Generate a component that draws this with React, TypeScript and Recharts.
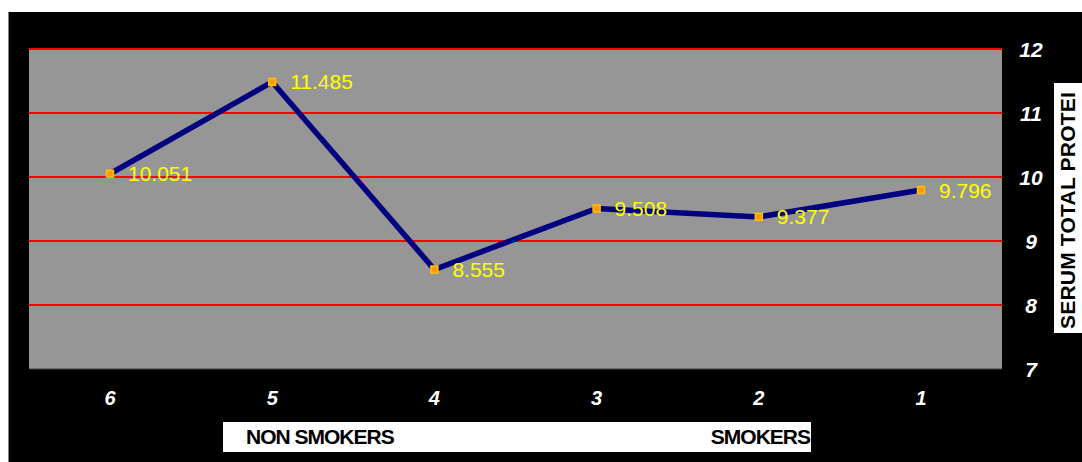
import React from "react";
import { LineChart, Line, XAxis, YAxis, CartesianGrid, LabelList } from "recharts";

const groups = ["6", "5", "4", "3", "2", "1"];
const serumProtein = [10.051, 11.485, 8.555, 9.508, 9.377, 9.796];
const yTicks = [7, 8, 9, 10, 11, 12];
const gridValues = [8, 9, 10, 11, 12];

const data = groups.map((g, i) => ({ group: g, value: serumProtein[i] }));

const FONT = "'Liberation Sans', Arial, sans-serif";

const XTick = (props: any) => {
  const { x, y, payload } = props;
  return (
    <text x={x} y={y + 29} textAnchor="middle" dominantBaseline="central" fill="#fff" fontSize={20} fontWeight="bold" fontStyle="italic" fontFamily={FONT}>
      {payload.value}
    </text>
  );
};

const YTick = (props: any) => {
  const { x, y, payload } = props;
  return (
    <text x={x + 29} y={y} textAnchor="middle" dominantBaseline="central" fill="#fff" fontSize={21} fontWeight="bold" fontStyle="italic" fontFamily={FONT}>
      {payload.value}
    </text>
  );
};

const Marker = (props: any) => {
  const { cx, cy } = props;
  if (cx == null || cy == null) return null;
  return <rect x={cx - 3.5} y={cy - 3.5} width={7} height={7} fill="#ff9900" stroke="#ffc000" strokeWidth={1.5} />;
};

export default function App() {
  return (
    <div
      style={{
        position: "absolute",
        left: 8,
        top: 12,
        width: 1074,
        height: 450,
        background: "#000",
        boxShadow: "inset 1px 0 0 #808080",
        fontFamily: FONT,
      }}
    >
      <LineChart width={1074} height={450} data={data} margin={{ top: 37, right: 0, left: 21, bottom: 0 }}>
        <CartesianGrid vertical={false} horizontalValues={gridValues} stroke="#ff0000" strokeWidth={2} fill="#969696" fillOpacity={1} />
        <XAxis
          dataKey="group"
          height={93}
          padding={{ left: 81, right: 81 }}
          tickSize={0}
          tickMargin={0}
          tickLine={false}
          axisLine={{ stroke: "#404040", strokeWidth: 1 }}
          tick={<XTick />}
          interval={0}
        />
        <YAxis
          orientation="right"
          width={80}
          domain={[7, 12]}
          ticks={yTicks}
          tickSize={0}
          tickMargin={0}
          tickLine={false}
          axisLine={false}
          tick={<YTick />}
          interval={0}
        />
        <Line
          type="linear"
          dataKey="value"
          stroke="#000080"
          strokeWidth={5.5}
          dot={<Marker />}
          activeDot={false}
          isAnimationActive={false}
        >
          <LabelList
            dataKey="value"
            position="right"
            offset={18}
            fill="#ffff00"
            fontSize={21}
            fontFamily={FONT}
          />
        </Line>
      </LineChart>

      <div
        style={{
          position: "absolute",
          left: 1046,
          top: 71,
          width: 28,
          height: 250,
          background: "#fff",
        }}
      >
        <div
          style={{
            writingMode: "vertical-rl",
            transform: "rotate(180deg)",
            width: 28,
            height: 250,
            display: "flex",
            alignItems: "center",
            justifyContent: "flex-start",
            paddingTop: 4,
            boxSizing: "border-box",
            fontSize: 21,
            fontWeight: "bold",
            letterSpacing: 0.2,
            color: "#000",
            whiteSpace: "nowrap",
            lineHeight: "28px",
          }}
        >
          SERUM TOTAL PROTEI
        </div>
      </div>

      <div
        style={{
          position: "absolute",
          left: 215,
          top: 410,
          width: 588,
          height: 30,
          background: "#fff",
          display: "flex",
          alignItems: "center",
          justifyContent: "space-between",
          padding: "0 1px 0 23px",
          boxSizing: "border-box",
          fontSize: 21,
          fontWeight: "bold",
          letterSpacing: -1,
          color: "#000",
        }}
      >
        <span>NON SMOKERS</span>
        <span>SMOKERS</span>
      </div>
    </div>
  );
}
